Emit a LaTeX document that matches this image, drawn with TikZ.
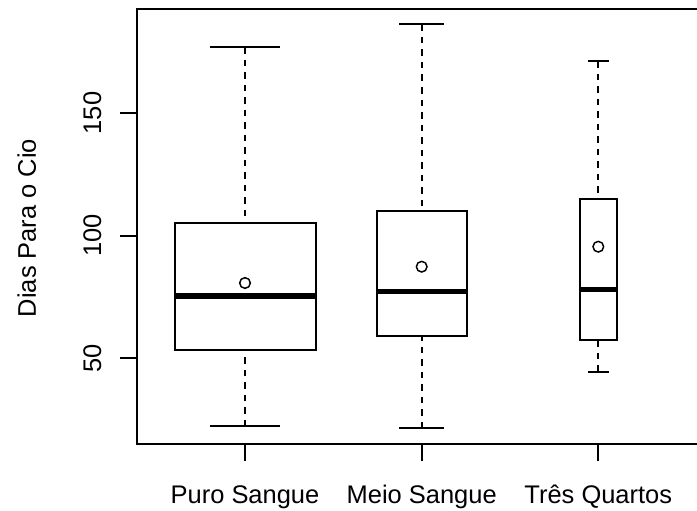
\documentclass[tikz,border=0pt]{standalone}
\usepackage{fontspec}
\setmainfont{Liberation Sans}
\begin{document}
\begin{tikzpicture}[x=0.75pt,y=-0.75pt,
  ln/.style={line width=1.3pt, line cap=butt},
  whisk/.style={ln, dash pattern=on 4.9pt off 4.5pt},
  med/.style={line width=3.9pt},
  meanpt/.style={circle, draw, line width=1.1pt, minimum size=8pt, inner sep=0pt, fill=white},
  lab/.style={font=\fontsize{19.1}{23}\selectfont, inner sep=0pt}]
\useasboundingbox (0,0) rectangle (697,511);
\clip (0,0) rectangle (697,511);
% frame
\draw[ln] (137,9) rectangle (705,444);
% y axis ticks and labels
\foreach \yy/\tx in {358.3/50, 235.7/100, 113/150} {
  \draw[ln] (120,\yy) -- (137,\yy);
  \node[lab, rotate=90, anchor=base] at (101,\yy) {\tx};
}
\node[lab, rotate=90, anchor=base] (ylab) at (36,228) {Dias Para o Cio};
% x axis ticks and labels
\foreach \xx/\tx in {245/Puro Sangue, 421.7/Meio Sangue, 598.3/Três Quartos} {
  \draw[ln] (\xx,444) -- (\xx,461);
  \node[lab, anchor=base] at (\xx,503) {\tx};
}
% box 1
\coordinate (a1) at (245,47); \coordinate (a2) at (245,223.3);
\coordinate (a3) at (245,426.3); \coordinate (a4) at (245,350.3);
\draw[whisk] (a1) -- (a2);
\draw[whisk] (a3) -- (a4);
\draw[ln] (210,47) -- (280,47);
\draw[ln] (210,426.3) -- (280,426.3);
\draw[ln] (175.3,223.3) rectangle (315.7,350.3);
\draw[med] (175.3,296) -- (315.7,296);
\node[meanpt] (m1) at (245,283) {};
% box 2
\coordinate (b1) at (421.7,24.3); \coordinate (b2) at (421.7,211.3);
\coordinate (b3) at (421.7,428.3); \coordinate (b4) at (421.7,336);
\draw[whisk] (b1) -- (b2);
\draw[whisk] (b3) -- (b4);
\draw[ln] (399.3,24.3) -- (444.3,24.3);
\draw[ln] (399.3,428.3) -- (444.3,428.3);
\draw[ln] (377.3,211.3) rectangle (466.7,336);
\draw[med] (377.3,291.7) -- (466.7,291.7);
\node[meanpt] (m2) at (421.7,266.7) {};
% box 3
\coordinate (c1) at (598.3,61); \coordinate (c2) at (598.3,199.3);
\coordinate (c3) at (598.3,372); \coordinate (c4) at (598.3,340);
\draw[whisk] (c1) -- (c2);
\draw[whisk] (c3) -- (c4);
\draw[ln] (587.8,61) -- (608.8,61);
\draw[ln] (587.8,372) -- (608.8,372);
\draw[ln] (580,199.3) rectangle (616.7,340);
\draw[med] (580,289.7) -- (616.7,289.7);
\node[meanpt] (m3) at (598.3,246.7) {};
\end{tikzpicture}
\end{document}
